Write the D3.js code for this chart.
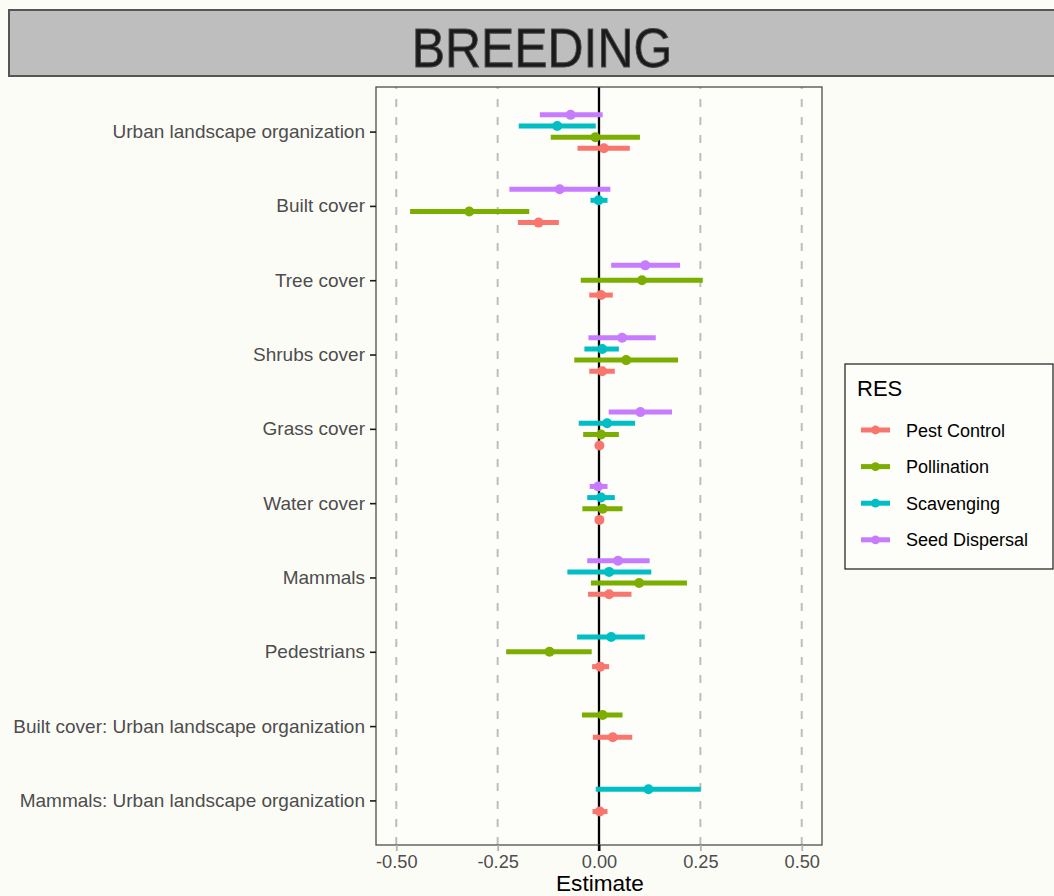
<!DOCTYPE html>
<html>
<head>
<meta charset="utf-8">
<script src="https://cdn.jsdelivr.net/npm/d3@7"></script>
<style>
  html, body { margin: 0; padding: 0; background: #FCFCF7; }
  svg { display: block; font-family: "Liberation Sans", Arial, sans-serif; }
</style>
</head>
<body>
<svg id="chart" width="1054" height="896"></svg>
<script>
// Model terms, top to bottom
const categories = [
  "Urban landscape organization",
  "Built cover",
  "Tree cover",
  "Shrubs cover",
  "Grass cover",
  "Water cover",
  "Mammals",
  "Pedestrians",
  "Built cover: Urban landscape organization",
  "Mammals: Urban landscape organization"
];

// Response groups (RES)
const seriesNames = ["Pest Control", "Pollination", "Scavenging", "Seed Dispersal"];
const seriesColors = ["#F8766D", "#7CAE00", "#00BFC4", "#C77CFF"];

// [estimate, lower, upper] per term; null where the term is absent
const pestControl = [
  [0.012, -0.053, 0.076],
  [-0.149, -0.200, -0.099],
  [0.005, -0.024, 0.034],
  [0.008, -0.024, 0.039],
  [0.001, -0.005, 0.007],
  [0.001, -0.005, 0.007],
  [0.025, -0.027, 0.080],
  [0.003, -0.017, 0.025],
  [0.034, -0.015, 0.082],
  [0.002, -0.016, 0.021]
];
const pollination = [
  [-0.009, -0.119, 0.101],
  [-0.320, -0.466, -0.172],
  [0.106, -0.045, 0.256],
  [0.067, -0.061, 0.195],
  [0.005, -0.039, 0.049],
  [0.009, -0.041, 0.058],
  [0.099, -0.020, 0.217],
  [-0.122, -0.229, -0.018],
  [0.009, -0.042, 0.058],
  null
];
const scavenging = [
  [-0.103, -0.198, -0.008],
  [-0.001, -0.021, 0.021],
  null,
  [0.008, -0.036, 0.049],
  [0.020, -0.050, 0.089],
  [0.005, -0.029, 0.039],
  [0.025, -0.078, 0.129],
  [0.030, -0.054, 0.113],
  null,
  [0.122, -0.008, 0.251]
];
const seedDispersal = [
  [-0.070, -0.146, 0.009],
  [-0.097, -0.221, 0.028],
  [0.114, 0.030, 0.200],
  [0.057, -0.026, 0.140],
  [0.102, 0.024, 0.180],
  [-0.002, -0.023, 0.021],
  [0.047, -0.029, 0.125],
  null,
  null,
  null
];

const xTicks = [-0.50, -0.25, 0.00, 0.25, 0.50];
const xTickLabels = ["-0.50", "-0.25", "0.00", "0.25", "0.50"];
const refLines = [-0.50, -0.25, 0.25, 0.50];

const seriesData = [pestControl, pollination, scavenging, seedDispersal];

const svg = d3.select("#chart");
const panel = { left: 376, right: 822, top: 87, bottom: 845 };

// Strip title
svg.append("rect")
  .attr("x", 9).attr("y", 10)
  .attr("width", 1070).attr("height", 66)
  .attr("fill", "#BEBEBE")
  .attr("stroke", "#555555").attr("stroke-width", 2);
svg.append("text")
  .attr("transform", "translate(542,67) scale(0.89,1)")
  .attr("text-anchor", "middle")
  .attr("font-size", 56)
  .attr("fill", "#1A1A1A")
  .attr("stroke", "#4a4a4a").attr("stroke-width", 1.0)
  .text("BREEDING");

// Scales
const x = d3.scaleLinear().domain([-0.55, 0.55]).range([panel.left, panel.right]);
const y = d3.scalePoint().domain(categories).range([panel.top, panel.bottom]).padding(0.6);
const color = d3.scaleOrdinal().domain(seriesNames).range(seriesColors);

// Panel background
svg.append("rect")
  .attr("x", panel.left).attr("y", panel.top)
  .attr("width", panel.right - panel.left).attr("height", panel.bottom - panel.top)
  .attr("fill", "#FDFDF9");

// Dashed reference lines
svg.append("g").selectAll("line").data(refLines).join("line")
  .attr("x1", d => x(d)).attr("x2", d => x(d))
  .attr("y1", panel.bottom).attr("y2", panel.top)
  .attr("stroke", "#BDBDBD").attr("stroke-width", 2)
  .attr("stroke-dasharray", "8,10");

// Zero line
svg.append("line")
  .attr("x1", x(0)).attr("x2", x(0))
  .attr("y1", panel.top).attr("y2", panel.bottom + 6)
  .attr("stroke", "#000").attr("stroke-width", 2.3);

// Build dodged rows: groups present in a term share a 0.6-step dodge width
const rows = [];
categories.forEach((cat, ci) => {
  const present = seriesNames
    .map((name, si) => ({ name, v: seriesData[si][ci] }))
    .filter(d => d.v !== null);
  const dodge = d3.scaleBand()
    .domain(present.map(d => d.name).reverse())
    .range([-0.3 * y.step(), 0.3 * y.step()]);
  present.forEach(d => {
    rows.push({
      cat, series: d.name,
      est: d.v[0], lo: d.v[1], hi: d.v[2],
      yPos: y(cat) + dodge(d.name) + dodge.bandwidth() / 2
    });
  });
});

const marks = svg.append("g");
marks.selectAll("line").data(rows).join("line")
  .attr("x1", d => x(d.lo)).attr("x2", d => x(d.hi))
  .attr("y1", d => d.yPos).attr("y2", d => d.yPos)
  .attr("stroke", d => color(d.series))
  .attr("stroke-width", 5);
marks.selectAll("circle").data(rows).join("circle")
  .attr("cx", d => x(d.est)).attr("cy", d => d.yPos)
  .attr("r", 5)
  .attr("fill", d => color(d.series));

// Panel border
svg.append("rect")
  .attr("x", panel.left).attr("y", panel.top)
  .attr("width", panel.right - panel.left).attr("height", panel.bottom - panel.top)
  .attr("fill", "none").attr("stroke", "#4D4D4D").attr("stroke-width", 1.3);

// Y axis
const yAxis = svg.append("g")
  .attr("transform", `translate(${panel.left},0)`)
  .call(d3.axisLeft(y).tickSize(6).tickPadding(5));
yAxis.select(".domain").remove();
yAxis.selectAll(".tick line").attr("stroke", "#1A1A1A").attr("stroke-width", 1.6);
yAxis.selectAll(".tick text")
  .attr("font-family", "Liberation Sans, Arial, sans-serif")
  .attr("font-size", 19)
  .attr("fill", "#4D4D4D");

// X axis
const xAxis = svg.append("g")
  .attr("transform", `translate(0,${panel.bottom})`)
  .call(d3.axisBottom(x).tickValues(xTicks)
    .tickFormat((d, i) => xTickLabels[i]).tickSize(6).tickPadding(4));
xAxis.select(".domain").remove();
xAxis.selectAll(".tick line").attr("stroke", d => d === 0 ? "#000" : "#B3B3B3").attr("stroke-width", 1.8);
xAxis.selectAll(".tick text")
  .attr("font-family", "Liberation Sans, Arial, sans-serif")
  .attr("font-size", 18.2)
  .attr("fill", "#4D4D4D");

svg.append("text")
  .attr("x", (panel.left + panel.right) / 2 + 1).attr("y", 891)
  .attr("text-anchor", "middle")
  .attr("font-size", 22.6)
  .attr("fill", "#000")
  .text("Estimate");

// Legend
const legend = svg.append("g");
legend.append("rect")
  .attr("x", 845).attr("y", 364).attr("width", 208).attr("height", 205)
  .attr("fill", "#FDFDF9").attr("stroke", "#1A1A1A").attr("stroke-width", 1.2);
legend.append("text")
  .attr("x", 857).attr("y", 396)
  .attr("font-size", 22).attr("fill", "#000")
  .text("RES");
const item = legend.selectAll("g.item").data(seriesNames).join("g")
  .attr("class", "item")
  .attr("transform", (d, i) => `translate(0,${430 + i * 36.6})`);
item.append("line")
  .attr("x1", 861).attr("x2", 890).attr("y1", 0).attr("y2", 0)
  .attr("stroke", d => color(d)).attr("stroke-width", 5);
item.append("circle")
  .attr("cx", 875.5).attr("cy", 0).attr("r", 4.4)
  .attr("fill", d => color(d));
item.append("text")
  .attr("x", 906).attr("y", 6.5)
  .attr("font-size", 18).attr("fill", "#000")
  .text(d => d);
</script>
</body>
</html>
